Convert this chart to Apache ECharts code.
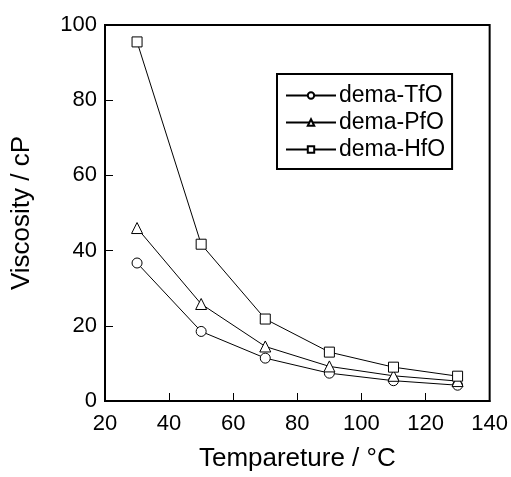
<!DOCTYPE html>
<html><head><meta charset="utf-8">
<script src="https://cdn.jsdelivr.net/npm/echarts@6/dist/echarts.min.js"></script>
<style>html,body{margin:0;padding:0;background:#fff}#c{width:511px;height:477px}</style>
</head><body><div id="c"></div>
<script>
const temps = [30, 50, 70, 90, 110, 130];
const tfo = [36.7, 18.5, 11.4, 7.4, 5.4, 4.2];
const pfo = [46.0, 25.8, 14.5, 9.2, 6.7, 5.3];
const hfo = [95.5, 41.7, 21.8, 13.0, 9.0, 6.6];
const names = ['dema-TfO', 'dema-PfO', 'dema-HfO'];
const xTicks = [20, 40, 60, 80, 100, 120, 140];
const yTicks = [0, 20, 40, 60, 80, 100];

const font = 'Liberation Sans, Arial, sans-serif';
function mk(name, vals, sym) {
  return {
    name: name, type: 'line', data: temps.map((t, i) => [t, vals[i]]),
    symbol: sym, symbolSize: sym === 'triangle' ? 11 : 10,
    lineStyle: { color: '#000', width: 1 },
    itemStyle: { color: '#fff', borderColor: '#000', borderWidth: 1 },
    emphasis: { disabled: true }, animation: false
  };
}
const chart = echarts.init(document.getElementById('c'));
chart.setOption({
  animation: false,
  textStyle: { fontFamily: font },
  grid: { left: 105, top: 25, right: 21, bottom: 69, show: true, borderColor: '#000', borderWidth: 2 },
  legend: {
    data: names, orient: 'vertical', left: 277, top: 74,
    padding: [10, 7, 8, 8], itemGap: 4, itemWidth: 50, itemHeight: 8,
    borderColor: '#000', borderWidth: 2, backgroundColor: '#fff',
    textStyle: { fontSize: 23, color: '#000', fontFamily: font, padding: [0, 0, 0, -2] },
    selectedMode: false
  },
  xAxis: {
    type: 'value', min: xTicks[0], max: xTicks[xTicks.length - 1], interval: 20,
    name: 'Tempareture / °C', nameLocation: 'middle', nameGap: 45,
    nameTextStyle: { fontSize: 26, color: '#000', fontFamily: font },
    axisLine: { lineStyle: { color: '#000', width: 2 } },
    axisTick: { inside: true, length: 8, lineStyle: { color: '#000', width: 1 } },
    axisLabel: { fontSize: 22, color: '#000', margin: 12, fontFamily: font },
    splitLine: { show: false }
  },
  yAxis: {
    type: 'value', min: yTicks[0], max: yTicks[yTicks.length - 1], interval: 20,
    name: 'Viscosity / cP', nameLocation: 'middle', nameGap: 70,
    nameTextStyle: { fontSize: 26, color: '#000', fontFamily: font },
    axisLine: { lineStyle: { color: '#000', width: 2 } },
    axisTick: { inside: true, length: 8, lineStyle: { color: '#000', width: 1 } },
    axisLabel: { fontSize: 22, color: '#000', margin: 8, fontFamily: font },
    splitLine: { show: false }
  },
  series: [mk(names[0], tfo, 'circle'), mk(names[1], pfo, 'triangle'), mk(names[2], hfo, 'rect')]
});
</script></body></html>
